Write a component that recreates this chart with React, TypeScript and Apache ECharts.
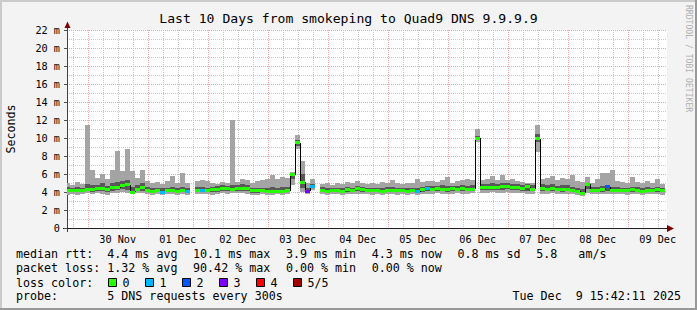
import React, { useEffect, useRef } from 'react';
import * as echarts from 'echarts';

const FONT = '"DejaVu Sans Mono", "Liberation Mono", monospace';
const TITLE = 'Last 10 Days from smokeping to Quad9 DNS 9.9.9.9';

// x axis: hours since 29 Nov 00:00 (graph covers 29 Nov 15:42:11 .. 09 Dec 15:42:11)
const HOUR_MIN = 15 + 42 / 60 + 11 / 3600;
const HOUR_MAX = HOUR_MIN + 240;
const FIRST_BIN_HOUR = 15;
const BIN_HOURS = 2;
const Y_MAX = 22;

const dayLabelHours = [36, 60, 84, 108, 132, 156, 180, 204, 228, 252];
const dayLabels = ['30 Nov', '01 Dec', '02 Dec', '03 Dec', '04 Dec', '05 Dec', '06 Dec', '07 Dec', '08 Dec', '09 Dec'];
const majorGridHours = [24, 48, 72, 96, 120, 144, 168, 192, 216, 240];
const minorGridHours = [18, 30, 36, 42, 54, 60, 66, 78, 84, 90, 102, 108, 114, 126, 132, 138, 150, 156, 162, 174, 180, 186, 198, 204, 210, 222, 228, 234, 246, 252];

// smoke (5 pings per bin, sorted): lowest, 2nd, median, 4th, highest  (ms)
const pingMin = [
  3.7, 3.8, 3.7, 3.8, 3.9, 3.8, 3.9, 3.8, 3.7, 3.9,
  3.9, 4.0, 3.9, 3.8, 3.9, 3.9, 3.8, 3.7, 3.8, 3.7,
  3.8, 3.8, 3.7, 3.8, 3.7, null, 3.8, 3.8, 3.8, 3.7,
  3.8, 3.9, 3.8, 3.9, 3.9, 3.9, 3.8, 3.7, 3.7, 3.8,
  3.7, 3.7, 3.8, 3.7, 3.8, 4.8, 8.8, 4.0, 3.8, 4.2,
  null, 3.8, 3.7, 3.8, 3.8, 3.7, 3.8, 3.8, 3.8, 3.8,
  3.8, 3.7, 3.8, 3.7, 3.8, 3.8, 3.7, 3.8, 3.7, 3.8,
  3.7, 3.8, 3.8, 3.8, 3.9, 3.8, 3.8, 3.8, 3.9, 3.8,
  3.8, 3.9, 9.6, 3.9, 3.9, 4.0, 3.9, 3.9, 4.0, 3.9,
  3.9, 3.9, 3.8, 3.8, 8.4, 3.8, 3.8, 3.9, 3.8, 3.8,
  3.8, 3.8, 3.7, 3.6, 3.9, 3.8, 3.8, 3.8, 3.8, 3.8,
  3.8, 3.8, 3.7, 3.8, 3.8, 3.7, 3.8, 3.8, 3.8, 3.7,
];
const pingLow = [
  4.0, 4.0, 3.95, 4.0, 4.1, 4.0, 4.1, 4.1, 4.0, 4.1,
  4.2, 4.3, 4.2, 3.9, 4.1, 4.1, 4.0, 3.95, 4.0, 3.9,
  4.0, 4.0, 3.95, 4.0, 3.9, null, 4.0, 4.0, 4.05, 4.0,
  4.05, 4.1, 4.1, 4.1, 4.1, 4.15, 4.1, 3.9, 3.9, 4.0,
  3.95, 3.9, 4.0, 3.95, 4.0, 5.5, 9.1, 4.4, 4.0, 4.4,
  null, 4.0, 3.9, 4.0, 4.0, 3.95, 4.05, 4.0, 4.1, 4.0,
  4.0, 3.95, 4.0, 3.9, 4.0, 4.0, 3.95, 4.0, 3.9, 4.0,
  3.9, 4.05, 4.1, 4.1, 4.1, 4.1, 4.05, 4.1, 4.1, 4.1,
  4.1, 4.1, 9.8, 4.2, 4.2, 4.2, 4.2, 4.2, 4.3, 4.2,
  4.2, 4.15, 4.1, 4.1, 9.6, 4.1, 4.1, 4.1, 4.1, 4.05,
  4.1, 4.0, 3.9, 3.75, 4.3, 4.0, 4.0, 4.0, 4.1, 4.0,
  4.0, 4.0, 3.95, 4.0, 4.0, 3.9, 4.0, 4.0, 4.05, 4.0,
];
const medianRtt = [
  4.15, 4.2, 4.15, 4.2, 4.3, 4.3, 4.35, 4.4, 4.3, 4.45,
  4.5, 4.7, 4.8, 4.0, 4.3, 4.5, 4.2, 4.1, 4.15, 4.0,
  4.15, 4.2, 4.1, 4.2, 4.05, null, 4.2, 4.2, 4.2, 4.25,
  4.3, 4.35, 4.35, 4.3, 4.4, 4.4, 4.35, 4.2, 4.15, 4.2,
  4.1, 4.05, 4.1, 4.1, 4.15, 5.9, 9.5, 5.1, 4.1, 4.6,
  null, 4.2, 4.1, 4.15, 4.2, 4.1, 4.25, 4.2, 4.35, 4.25,
  4.2, 4.15, 4.2, 4.1, 4.2, 4.2, 4.15, 4.2, 4.1, 4.2,
  4.05, 4.25, 4.4, 4.3, 4.35, 4.3, 4.3, 4.35, 4.3, 4.35,
  4.3, 4.3, 10.0, 4.45, 4.5, 4.55, 4.5, 4.6, 4.6, 4.5,
  4.45, 4.4, 4.6, 4.3, 9.9, 4.4, 4.3, 4.35, 4.3, 4.3,
  4.3, 4.2, 4.1, 3.85, 4.85, 4.2, 4.2, 4.25, 4.6, 4.2,
  4.2, 4.2, 4.15, 4.25, 4.2, 4.1, 4.2, 4.2, 4.3, 4.2,
];
const pingHigh = [
  4.6, 4.5, 4.6, 4.5, 4.9, 4.8, 4.8, 5.0, 4.7, 5.0,
  5.1, 5.2, 5.3, 4.6, 4.8, 5.0, 4.6, 4.4, 4.5, 4.4,
  4.5, 4.6, 4.4, 4.6, 4.4, null, 4.6, 4.6, 4.5, 4.6,
  4.7, 4.8, 4.7, 4.8, 4.8, 4.9, 4.8, 4.5, 4.5, 4.5,
  4.5, 4.6, 4.5, 4.6, 4.6, 6.0, 9.8, 6.0, 4.5, 4.9,
  null, 4.6, 4.4, 4.5, 4.5, 4.4, 4.6, 4.5, 4.7, 4.6,
  4.5, 4.5, 4.5, 4.5, 4.6, 4.6, 4.5, 4.5, 4.4, 4.5,
  4.4, 4.6, 4.7, 4.7, 4.7, 4.8, 4.7, 4.7, 4.7, 4.8,
  4.7, 4.8, 10.2, 4.9, 4.9, 5.0, 4.9, 5.0, 5.0, 4.9,
  4.9, 4.8, 4.9, 4.8, 10.4, 4.9, 4.8, 4.9, 4.7, 4.8,
  4.8, 4.6, 4.5, 4.3, 5.0, 4.6, 4.6, 4.7, 4.8, 4.6,
  4.6, 4.5, 4.5, 4.6, 4.6, 4.5, 4.6, 4.5, 4.6, 4.5,
];
const pingMax = [
  5.0, 4.8, 5.1, 4.9, 11.4, 6.4, 5.6, 6.0, 5.4, 6.4,
  8.6, 6.3, 8.8, 6.3, 5.6, 6.5, 5.2, 5.0, 5.1, 4.9,
  5.2, 5.8, 5.0, 6.1, 5.0, null, 5.2, 5.3, 5.2, 5.0,
  4.9, 5.1, 5.0, 12.0, 5.1, 5.5, 5.3, 5.0, 5.2, 5.3,
  5.5, 5.9, 5.4, 5.7, 5.6, 6.2, 10.3, 7.4, 5.0, 5.5,
  null, 4.9, 5.0, 4.8, 5.0, 4.9, 5.1, 5.0, 5.2, 5.0,
  4.9, 5.0, 4.9, 5.1, 5.0, 5.3, 5.0, 4.9, 5.0, 5.0,
  5.5, 5.1, 5.2, 5.2, 5.1, 5.3, 5.7, 5.0, 5.2, 5.3,
  5.5, 5.3, 11.0, 5.3, 5.4, 5.8, 5.3, 5.9, 5.3, 5.4,
  5.2, 5.1, 5.0, 5.0, 11.5, 5.5, 5.6, 5.8, 5.3, 5.6,
  5.5, 5.9, 5.2, 5.1, 5.7, 5.0, 5.4, 6.1, 6.1, 6.4,
  5.2, 5.1, 5.0, 5.7, 5.1, 5.0, 5.2, 5.0, 5.5, 4.9,
];
// lost pings per bin (index into loss colours)
const lostPings = [
  0, 0, 0, 0, 0, 0, 0, 0, 0, 0,
  0, 0, 0, 0, 0, 0, 0, 0, 0, 1,
  0, 0, 0, 0, 1, 0, 0, 1, 0, 0,
  0, 0, 0, 0, 0, 0, 0, 0, 0, 0,
  0, 0, 0, 0, 0, 0, 0, 0, 3, 1,
  0, 0, 0, 0, 0, 0, 0, 0, 0, 0,
  0, 0, 0, 0, 0, 0, 0, 0, 0, 0,
  1, 0, 1, 0, 0, 0, 0, 0, 0, 0,
  0, 0, 0, 0, 0, 0, 0, 0, 0, 0,
  0, 0, 0, 0, 0, 0, 0, 0, 0, 0,
  0, 0, 0, 0, 0, 0, 0, 0, 2, 0,
  0, 0, 0, 0, 0, 0, 0, 0, 0, 0,
];

const lossLabels = ['0', '1', '2', '3', '4', '5/5'];
const lossColors = ['#26ff00', '#00b8ff', '#0059ff', '#7e00ff', '#ff0000', '#a10000'];

const rttItems = ['median rtt:  4.4 ms avg', '10.1 ms max', '3.9 ms min', '4.3 ms now', '0.8 ms sd', '5.8   am/s'];
const lossItems = ['packet loss: 1.32 % avg', '90.42 % max', '0.00 % min', '0.00 % now'];
const lossColorTitle = 'loss color:';
const probeText = 'probe:       5 DNS requests every 300s';
const stampText = 'Tue Dec  9 15:42:11 2025';
const watermark = 'RRDTOOL / TOBI OETIKER';
const yName = 'Seconds';

const LEGEND_SIZE = 11.66;
const AXIS_SIZE = 10.2;
const CW = LEGEND_SIZE * 0.60205;
const LEGEND_GAP = 15.6;

function monoText(str: string, x: number, y: number, size: number, fill = '#000'): any[] {
  const cw = size * 0.60205;
  const out: any[] = [];
  const re = /\S+(?: \S+)*/g;
  let m: RegExpExecArray | null;
  while ((m = re.exec(str))) {
    out.push({
      type: 'text', silent: true, x: x + m.index * cw, y,
      style: { text: m[0], fill, fontFamily: FONT, fontSize: size, align: 'left', verticalAlign: 'middle' },
    });
  }
  return out;
}

const binStart = (i: number) => FIRST_BIN_HOUR + BIN_HOURS * i;

export default function App() {
  const ref = useRef<HTMLDivElement>(null);
  useEffect(() => {
    document.body.style.margin = '0';
    if (!ref.current) return;
    const chart = echarts.init(ref.current, undefined, { renderer: 'svg' });

    const binData = medianRtt.map((_, i) => [binStart(i), binStart(i) + BIN_HOURS, pingMin[i], pingMax[i]]);
    const gridData = [...minorGridHours.map((h) => [h, 0]), ...majorGridHours.map((h) => [h, 1])];

    const clampX = (api: any, h: number) => {
      const left = api.coord([HOUR_MIN, 0])[0];
      const right = api.coord([HOUR_MAX, 0])[0];
      return Math.round(Math.min(right, Math.max(left, api.coord([h, 0])[0])));
    };

    // legend items laid out RRDtool-style: fixed gap between items
    const legendItemX: number[] = [];
    let cx = 16;
    rttItems.forEach((s) => {
      legendItemX.push(cx);
      cx += s.length * CW + LEGEND_GAP;
    });

    const graphic: any[] = [];
    // 3D frame
    graphic.push({ type: 'rect', silent: true, shape: { x: 0, y: 0, width: 697, height: 2 }, style: { fill: '#cbcbcb' } });
    graphic.push({ type: 'rect', silent: true, shape: { x: 0, y: 0, width: 2, height: 310 }, style: { fill: '#cbcbcb' } });
    graphic.push({ type: 'rect', silent: true, shape: { x: 0, y: 308, width: 697, height: 2 }, style: { fill: '#999999' } });
    graphic.push({ type: 'rect', silent: true, shape: { x: 695, y: 0, width: 2, height: 310 }, style: { fill: '#999999' } });
    // axis arrows
    graphic.push({ type: 'polygon', silent: true, shape: { points: [[64.5, 28], [70.5, 28], [67.5, 21.5]] }, style: { fill: '#7f0000' } });
    graphic.push({ type: 'line', silent: true, shape: { x1: 67.5, y1: 28, x2: 67.5, y2: 31 }, style: { stroke: '#404040', lineWidth: 1 } });
    graphic.push({ type: 'line', silent: true, shape: { x1: 67.5, y1: 228, x2: 67.5, y2: 232 }, style: { stroke: '#404040', lineWidth: 1 } });
    graphic.push({ type: 'line', silent: true, shape: { x1: 63, y1: 228.5, x2: 68, y2: 228.5 }, style: { stroke: '#202020', lineWidth: 1 } });
    graphic.push({ type: 'polygon', silent: true, shape: { points: [[667, 225], [667, 232], [674, 228.5]] }, style: { fill: '#7f0000' } });
    // y axis title
    graphic.push({ type: 'text', silent: true, x: 11, y: 129, rotation: Math.PI / 2, style: { text: yName, fill: '#000', fontFamily: FONT, fontSize: LEGEND_SIZE, align: 'center', verticalAlign: 'middle' } });
    // watermark
    graphic.push({ type: 'text', silent: true, x: 688.5, y: 5, rotation: -Math.PI / 2, style: { text: watermark, fill: '#b0b0b0', fontFamily: FONT, fontSize: 8.1, align: 'left', verticalAlign: 'middle' } });
    // legend
    rttItems.forEach((s, k) => graphic.push(...monoText(s, legendItemX[k], 254.3, LEGEND_SIZE)));
    lossItems.forEach((s, k) => graphic.push(...monoText(s, legendItemX[k], 268.3, LEGEND_SIZE)));
    graphic.push(...monoText(lossColorTitle, 16, 282.5, LEGEND_SIZE));
    lossLabels.forEach((lab, k) => {
      const bx = 108 + 37 * k;
      graphic.push({ type: 'rect', silent: true, shape: { x: bx + 0.5, y: 278.5, width: 8, height: 8 }, style: { fill: lossColors[k], stroke: '#000', lineWidth: 1 } });
      graphic.push(...monoText(lab, bx + 14.5, 282.5, LEGEND_SIZE));
    });
    graphic.push(...monoText(probeText, 16, 296.3, LEGEND_SIZE));
    graphic.push(...monoText(stampText, 681 - stampText.length * CW, 296.3, LEGEND_SIZE));

    const option: any = {
      animation: false,
      backgroundColor: '#f3f3f3',
      title: {
        text: TITLE, left: 'center', top: 12, padding: 0,
        textStyle: { fontFamily: FONT, fontSize: 13.1, fontWeight: 'normal', color: '#000' },
      },
      grid: { left: 67, top: 30, width: 600, height: 198, show: true, backgroundColor: '#ffffff', borderWidth: 0 },
      xAxis: {
        type: 'value', min: HOUR_MIN, max: HOUR_MAX,
        splitLine: { show: false },
        axisTick: { show: false },
        axisLine: { show: true, onZero: false, lineStyle: { color: '#202020', width: 1 } },
        axisLabel: {
          customValues: dayLabelHours,
          formatter: (v: number) => {
            const k = dayLabelHours.indexOf(Math.round(v));
            return k >= 0 ? dayLabels[k] : '';
          },
          fontFamily: FONT, fontSize: AXIS_SIZE, color: '#000', margin: 6,
        },
      },
      yAxis: {
        type: 'value', min: 0, max: Y_MAX, interval: 2,
        axisLine: { show: true, lineStyle: { color: '#404040', width: 1 } },
        axisTick: { show: true, length: 3, lineStyle: { color: '#505050' } },
        axisLabel: {
          formatter: (v: number) => (v === 0 ? '0' : `${v} m`),
          fontFamily: FONT, fontSize: AXIS_SIZE, color: '#000', margin: 7,
        },
        splitLine: { show: true, lineStyle: { color: '#f2a5a5', width: 1, type: [1, 1] } },
        minorTick: { show: false, splitNumber: 2 },
        minorSplitLine: { show: true, lineStyle: { color: '#c8c8c8', width: 1, type: [1, 1] } },
      },
      series: [
        {
          type: 'custom', name: 'grid', silent: true,
          data: gridData,
          encode: { x: 0, y: 1 },
          renderItem: (params: any, api: any) => {
            const h = api.value(0);
            const major = api.value(1);
            const p0 = api.coord([h, 0]);
            const p1 = api.coord([h, Y_MAX]);
            const x = Math.round(p0[0]) + 0.5;
            return {
              type: 'line',
              shape: { x1: x, y1: p1[1], x2: x, y2: p0[1] - 1 },
              style: { stroke: major ? '#f2a5a5' : '#c8c8c8', lineWidth: 1, lineDash: [1, 1] },
            };
          },
        },
        {
          type: 'custom', name: 'smoke', silent: true,
          data: binData,
          encode: { x: [0, 1], y: [2, 3] },
          renderItem: (params: any, api: any) => {
            const i = params.dataIndex;
            if (medianRtt[i] == null) return null;
            const t = binStart(i);
            const x0 = clampX(api, t);
            const x1 = clampX(api, t + BIN_HOURS);
            const yv = (v: number) => Math.round(api.coord([t, v])[1]);
            return {
              type: 'group',
              children: [
                { type: 'rect', shape: { x: x0, y: yv(pingMax[i] as number), width: x1 - x0, height: yv(pingMin[i] as number) - yv(pingMax[i] as number) }, style: { fill: '#a4a4a4' } },
                { type: 'rect', shape: { x: x0, y: yv(pingHigh[i] as number), width: x1 - x0, height: yv(pingLow[i] as number) - yv(pingHigh[i] as number) }, style: { fill: '#585858' } },
              ],
            };
          },
        },
        {
          type: 'custom', name: 'median rtt', silent: true,
          data: binData,
          encode: { x: [0, 1], y: [2, 3] },
          renderItem: (params: any, api: any) => {
            const i = params.dataIndex;
            const m = medianRtt[i];
            if (m == null) return null;
            const t = binStart(i);
            const x0 = clampX(api, t);
            const x1 = clampX(api, t + BIN_HOURS);
            const ym = api.coord([t, m])[1];
            const children: any[] = [];
            const next = i + 1 < medianRtt.length ? medianRtt[i + 1] : null;
            if (next != null) {
              const yn = api.coord([t, next])[1];
              children.push({ type: 'line', shape: { x1: x1 + 0.5, y1: Math.round(ym), x2: x1 + 0.5, y2: Math.round(yn) }, style: { stroke: '#000000', lineWidth: 1 } });
            }
            children.push({ type: 'rect', shape: { x: x0, y: Math.round(ym - 1.5), width: x1 - x0, height: 3 }, style: { fill: lossColors[lostPings[i]] } });
            return { type: 'group', children };
          },
        },
      ],
      graphic,
    };
    chart.setOption(option);
    return () => chart.dispose();
  }, []);
  return <div ref={ref} style={{ width: 697, height: 310 }} />;
}
